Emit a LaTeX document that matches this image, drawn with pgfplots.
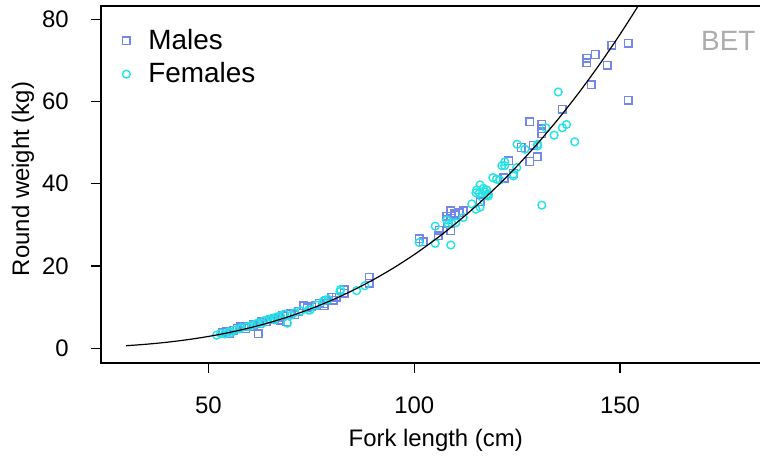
\documentclass[border=0pt]{standalone}
\usepackage{fontspec}
\setmainfont{Liberation Sans}
\usepackage{pgfplots}
\pgfplotsset{compat=1.18}
\definecolor{malec}{RGB}{115,135,235}
\definecolor{femc}{RGB}{35,228,228}
\begin{document}
\begin{tikzpicture}
\begin{axis}[
  scale only axis, width=330.5bp, height=178.35bp,
  xmin=23.9, xmax=184.5, ymin=-3.5, ymax=83.2,
  xtick={50,100,150}, ytick={0,20,40,60,80},
  tick align=outside, major tick length=5bp,
  xtick pos=bottom, ytick pos=left,
  axis line style={line width=0.8bp},
  tick style={line width=0.6bp, black},
  font=\fontsize{12}{14.4}\selectfont,
  /pgf/number format/assume math mode=true,
  xticklabel style={anchor=base, inner sep=0pt, yshift=-20.3bp, font=\fontsize{12}{14.4}\selectfont},
  yticklabel style={anchor=east, inner sep=0pt, xshift=-11bp, font=\fontsize{12}{14.4}\selectfont},
  xlabel={Fork length (cm)},
  ylabel={Round weight (kg)},
  xlabel style={at={(axis description cs:0.5064,-0.2355)}, anchor=base, inner sep=0pt, font=\fontsize{12}{14.4}\selectfont},
  ylabel style={at={(axis description cs:-0.118,0.515)}, anchor=center, inner sep=0pt, font=\fontsize{12}{14.4}\selectfont},
  clip mode=individual,
  legend image code/.code={\path[draw=none, fill=none] (0bp,-2bp) rectangle (18bp,2bp); \draw[#1] plot coordinates {(9bp,0bp)};},
  legend style={draw=none, fill=none, at={(0,1)}, anchor=north west, xshift=3.5bp, yshift=-9.5bp,
    font=\fontsize{14}{16.5}\selectfont, inner sep=0pt, row sep=1bp},
  legend cell align=left,
]
\addplot[only marks, mark=square, mark size=1.9bp, color=malec, mark options={line width=0.7bp}] coordinates {
(53.5,3.9)(54.5,4.2)(55,3.6)(56,4.4)(57,4.9)(57.7,5.2)(58.5,5.4)(59,4.8)(60,5.3)(61,5.8)
(62.1,3.5)(62.5,6.0)(63,6.4)(64,6.5)(65,6.9)(66,7.2)(67,7.6)(67.5,6.8)(68,7.9)(69,8.2)
(69,6.5)(70,8.5)(71,8.1)(72,9.0)(73.2,10.3)(74,9.8)(75.1,10.1)(75.9,10.5)(77,11.0)(78.1,10.9)
(78.1,10.3)(78.7,11.7)(80,12.4)(80.3,11.7)(81,12.4)(83,14.2)(83,13.4)(89.1,17.2)(89.1,15.8)
(101.2,26.6)(102.2,25.9)(105.8,27.3)(106.1,28.7)(107.9,32.1)(108.1,31.2)(108.1,30.4)(108.9,33.4)
(108.9,32.1)(108.9,28.6)(109.9,32.8)(109.9,32.4)(110.9,32.9)(111.9,33.4)(116.0,35.6)(121.8,41.5)
(122.0,41.3)(122.9,45.6)(124.1,42.5)(126.0,48.8)(128.1,45.4)(128.1,55.1)(128.9,49.4)(129.9,46.5)
(131.0,54.5)(131.0,53.4)(131.0,52.2)(136.0,58.1)(141.9,70.5)(141.9,69.4)(143.0,64.0)(144.0,71.4)
(146.9,68.8)(148.0,73.7)(152.0,74.2)(152.0,60.3)
};
\addlegendentry{Males}
\addplot[only marks, mark=o, mark size=1.95bp, color=femc, mark options={line width=0.7bp}] coordinates {
(52,3.2)(53,3.6)(54,3.5)(55,4.0)(55.5,3.8)(56.5,4.5)(57.5,4.7)(58,5.0)(59.5,5.3)(60.5,5.6)
(61.5,5.9)(62,6.2)(63,6.0)(63.5,6.7)(64.5,7.0)(65.5,7.3)(66,6.9)(66.5,7.6)(67.5,7.9)(68.5,8.3)
(69.2,6.1)(70,8.0)(71,8.7)(72.5,9.1)(74.3,9.3)(74.7,9.3)(76.3,10.5)(77.9,11.5)(78.3,11.7)(79.1,11.9)
(82.1,14.3)(81.96,13.8)(86,14.0)(88,15.2)
(101.2,25.7)(105.1,29.7)(105.1,25.5)(107.9,31.2)(108.3,30.2)(108.9,25.1)(109.1,30.5)(110.1,30.5)
(111.9,31.8)(114.0,35.1)(115.0,33.8)(116.0,34.3)(115.0,37.8)(115.2,38.5)(115.8,37.7)(116.0,39.7)
(116.4,36.8)(116.8,38.9)(117.2,38.0)(117.6,38.5)(117.6,37.2)(118.0,37.5)(118.0,37.0)(119.1,41.5)
(120.0,41.1)(120.8,40.9)(121.3,44.4)(122.0,45.3)(122.0,44.4)(124.1,42.3)(124.1,41.9)(124.9,43.9)
(125.0,49.6)(126.9,48.4)(130.0,49.6)(130.0,49.2)(131.0,34.8)(132.0,53.6)(134.0,51.8)(135.0,62.3)
(136.0,53.6)(137.0,54.4)(139.0,50.2)
};
\addlegendentry{Females}
\addplot[black, line width=0.6bp, smooth, forget plot] coordinates {
(30,0.629)(35,0.995)(40,1.482)(45,2.106)(50,2.883)(55,3.830)(60,4.965)(65,6.305)(70,7.864)
(75,9.660)(80,11.708)(85,14.032)(90,16.637)(95,19.547)(100,22.78)(105,26.35)(110,30.27)
(115,34.56)(120,39.24)(125,44.31)(130,49.81)(135,55.74)(140,62.12)(145,68.97)(150,76.31)
(155,84.15)(158,89.1)
};
\node[anchor=base east, inner sep=0pt, text=gray!65, font=\fontsize{14}{16.8}\selectfont] at (axis cs:183.0,72.5) {BET};
\end{axis}
\pgfresetboundingbox
\path (-50.5bp,-50.15bp) rectangle (329.5bp,181.35bp);
\end{tikzpicture}
\end{document}
